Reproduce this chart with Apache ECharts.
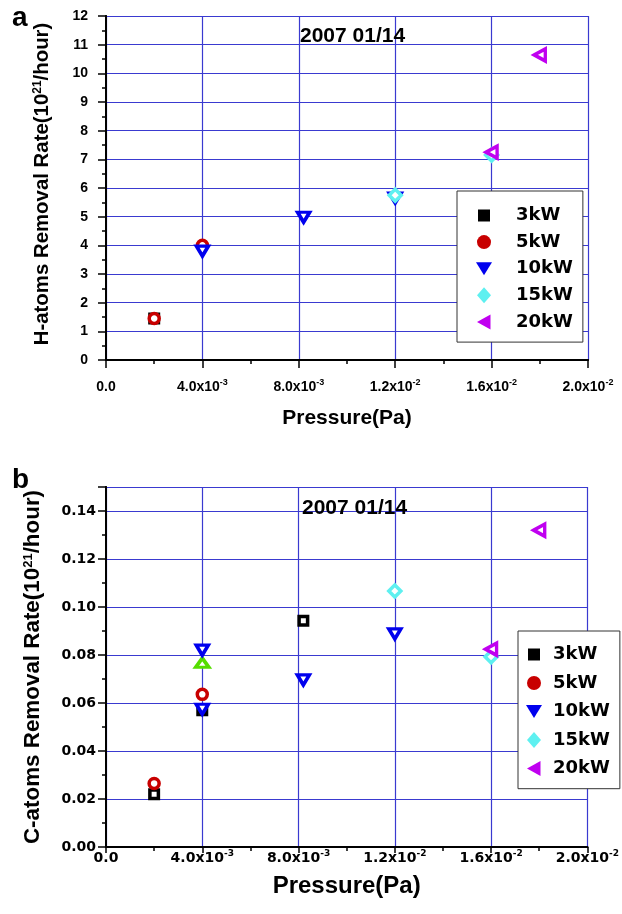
<!DOCTYPE html>
<html>
<head>
<meta charset="utf-8">
<script src="https://cdn.jsdelivr.net/npm/echarts@6/dist/echarts.min.js"></script>
<style>
  html, body { margin: 0; padding: 0; background: #fff; }
  #chart { width: 622px; height: 914px; }
</style>
</head>
<body>
<div id="chart"></div>
<script>
// x tick labels: mantissa + power of ten
var xTickMant = ['0.0', '4.0', '8.0', '1.2', '1.6', '2.0'];
var xTickExp = ['', '-3', '-3', '-2', '-2', '-2'];
var powerNames = ['3kW', '5kW', '10kW', '15kW', '20kW'];

// panel a : H-atoms removal rate (10^21/hour)
var h3kW = [[0.002, 1.45]];
var h5kW = [[0.002, 1.45], [0.004, 4.0]];
var h10kW = [[0.004, 3.8], [0.0082, 4.98], [0.012, 5.65]];
var h15kW = [[0.012, 5.75], [0.016, 7.15]];
var h20kW = [[0.016, 7.25], [0.018, 10.64]];

// panel b : C-atoms removal rate (10^21/hour)
var c3kW = [[0.002, 0.022], [0.004, 0.057], [0.0082, 0.0943]];
var c5kW = [[0.002, 0.0265], [0.004, 0.0636]];
var cGreen = [[0.004, 0.0768]];
var c10kW = [[0.004, 0.082], [0.004, 0.0574], [0.0082, 0.0696], [0.012, 0.0888]];
var c15kW = [[0.012, 0.1067], [0.016, 0.0793]];
var c20kW = [[0.016, 0.0824], [0.018, 0.132]];

// legend icons are drawn in a 17x17 box (the lone M points fix the box size)
var marks = {
  '3kW': { symbol: 'rect', size: 8.5, color: '#000000', icon: 'path://M0,0M17,17M2.5,2.5L14.5,2.5L14.5,14.5L2.5,14.5Z' },
  '5kW': { symbol: 'circle', size: 10, color: '#c80000', icon: 'path://M0,0M17,17M1.5,8.5A7,7,0,1,1,15.5,8.5A7,7,0,1,1,1.5,8.5Z' },
  '10kW': { symbol: 'triangle', size: [12, 10], rotate: 180, color: '#0000ee', icon: 'path://M0,0M17,17M0.5,2L16.5,2L8.5,15Z' },
  '15kW': { symbol: 'diamond', size: [12, 12], color: '#5ef0f0', icon: 'path://M0,0M17,17M8.5,0.5L15.5,8.5L8.5,16.5L1.5,8.5Z' },
  '20kW': { symbol: 'triangle', size: [12, 11], rotate: 90, color: '#c000f0', icon: 'path://M0,0M17,17M15,1L15,16L1.5,8.5Z' },
  'green': { symbol: 'triangle', size: [13, 9], color: '#55dd00' }
};

var gridColor = '#3a3ad0';
var arial = 'Liberation Sans';
var dejavu = 'DejaVu Sans';

function scatter(name, data, g, key) {
  var m = marks[key || name];
  return {
    type: 'scatter',
    name: name,
    xAxisIndex: g * 2,
    yAxisIndex: g * 2,
    data: data,
    symbol: m.symbol,
    symbolSize: m.size,
    symbolRotate: m.rotate || 0,
    itemStyle: { color: '#ffffff', borderColor: m.color, borderWidth: 3.5, opacity: 1 },
    emphasis: { disabled: true }
  };
}

function xLabel(v) {
  var i = Math.round(v / 0.004);
  var s = '{m|' + xTickMant[i] + '}';
  if (xTickExp[i]) s += '{m|x10}{s|' + xTickExp[i] + '}';
  return s;
}

function xAxes(g, font, size, margin, nameSize, nameGap, tickLen) {
  var common = { type: 'value', gridIndex: g, min: 0, max: 0.02, interval: 0.004 };
  var main = Object.assign({}, common, {
    position: 'bottom',
    name: 'Pressure(Pa)',
    nameLocation: 'middle',
    nameGap: nameGap,
    nameTextStyle: { fontFamily: arial, fontSize: nameSize, fontWeight: 'bold', color: '#000' },
    axisLine: { lineStyle: { color: '#000', width: 2 } },
    axisTick: { length: tickLen, lineStyle: { color: '#000', width: 1.5 } },
    minorTick: { show: true, splitNumber: 2, length: 4, lineStyle: { color: '#000', width: 1.5 } },
    splitLine: { show: true, lineStyle: { color: gridColor, width: 1.2 } },
    axisLabel: {
      margin: margin,
      formatter: xLabel,
      rich: {
        m: { fontFamily: font, fontSize: size, fontWeight: 'bold', color: '#000', lineHeight: 18 },
        s: { fontFamily: font, fontSize: 9, fontWeight: 'bold', color: '#000', verticalAlign: 'top' }
      }
    }
  });
  var top = Object.assign({}, common, {
    position: 'top',
    axisLine: { lineStyle: { color: '#000', width: 2 } },
    axisTick: { inside: true, length: 5, lineStyle: { color: '#000', width: 1.5 } },
    minorTick: { show: true, splitNumber: 2, length: 4, lineStyle: { color: '#000', width: 1.5 } },
    splitLine: { show: false },
    axisLabel: { show: false }
  });
  return [main, top];
}

function yAxes(g, max, interval, fmt, font, size, margin, title, nameSize, nameGap, shift) {
  var common = { type: 'value', gridIndex: g, min: 0, max: max, interval: interval };
  var main = Object.assign({}, common, {
    position: 'left',
    name: '{m|' + title + '-atoms Removal Rate(10}{s|21}{m|/hour)}',
    nameLocation: 'middle',
    nameRotate: 90,
    nameGap: nameGap,
    nameTextStyle: {
      padding: [0, 0, 0, shift],
      rich: {
        m: { fontFamily: arial, fontSize: nameSize, fontWeight: 'bold', color: '#000' },
        s: { fontFamily: arial, fontSize: Math.round(nameSize * 0.6), fontWeight: 'bold', color: '#000', verticalAlign: 'top' }
      }
    },
    axisLine: { lineStyle: { color: '#000', width: 2 } },
    axisTick: { length: 8, lineStyle: { color: '#000', width: 1.5 } },
    minorTick: { show: true, splitNumber: 2, length: 4, lineStyle: { color: '#000', width: 1.5 } },
    splitLine: { show: true, lineStyle: { color: gridColor, width: 1.2 } },
    axisLabel: { margin: margin, formatter: fmt, fontFamily: font, fontSize: size, fontWeight: 'bold', color: '#000' }
  });
  var right = Object.assign({}, common, {
    position: 'right',
    axisLine: { lineStyle: { color: '#000', width: 2 } },
    axisTick: { inside: true, length: 5, lineStyle: { color: '#000', width: 1.5 } },
    minorTick: { show: true, splitNumber: 2, length: 4, lineStyle: { color: '#000', width: 1.5 } },
    splitLine: { show: false },
    axisLabel: { show: false }
  });
  return [main, right];
}

var legendData = powerNames.map(function (n) {
  return {
    name: n,
    icon: marks[n].icon,
    itemStyle: { color: marks[n].color, borderColor: marks[n].color, borderWidth: 0 }
  };
});

function legend(left, top, padding, gap, textPad) {
  return {
    data: legendData,
    orient: 'vertical',
    left: left,
    top: top,
    padding: padding,
    itemWidth: 17,
    itemHeight: 17,
    itemGap: gap,
    selectedMode: false,
    backgroundColor: '#ffffff',
    borderColor: '#333333',
    borderWidth: 1,
    textStyle: { fontFamily: dejavu, fontWeight: 'bold', fontSize: 18, color: '#000', padding: [0, 0, 0, textPad] }
  };
}

var myChart = echarts.init(document.getElementById('chart'));
var option = {
  animation: false,
  backgroundColor: '#ffffff',
  title: [
    { text: 'a', left: 12, top: 4, padding: 0, textStyle: { fontFamily: arial, fontSize: 28, fontWeight: 'bold', color: '#000' } },
    { text: 'b', left: 12, top: 466, padding: 0, textStyle: { fontFamily: arial, fontSize: 28, fontWeight: 'bold', color: '#000' } },
    { text: '2007 01/14', left: 300, top: 26, padding: 0, textStyle: { fontFamily: arial, fontSize: 21, fontWeight: 'bold', color: '#000' } },
    { text: '2007 01/14', left: 302, top: 498, padding: 0, textStyle: { fontFamily: arial, fontSize: 21, fontWeight: 'bold', color: '#000' } }
  ],
  grid: [
    { left: 106, top: 16, width: 482, height: 344 },
    { left: 106, top: 487, width: 488, height: 360 }
  ],
  xAxis: xAxes(0, arial, 14, 18, 21, 48, 8).concat(xAxes(1, dejavu, 14, 2, 24, 27, 6)),
  yAxis: yAxes(0, 12, 1, function (v) { return String(v); }, arial, 14, 18, 'H', 20.4, 54, 8)
    .concat(yAxes(1, 0.15, 0.02, function (v) { return v > 0.145 ? '' : v.toFixed(2); }, dejavu, 14, 10, 'C', 22.4, 62, 0)),
  legend: [
    legend(457, 191, [15.5, 10, 11.2, 18.5], 8.6, 18.5),
    legend(518, 631, [14.5, 10, 11.2, 7.5], 10.5, 5.5)
  ],
  series: [
    scatter('3kW', h3kW, 0),
    scatter('5kW', h5kW, 0),
    scatter('10kW', h10kW, 0),
    scatter('15kW', h15kW, 0),
    scatter('20kW', h20kW, 0),
    scatter('3kW', c3kW, 1),
    scatter('5kW', c5kW, 1),
    scatter('other', cGreen, 1, 'green'),
    scatter('10kW', c10kW, 1),
    scatter('15kW', c15kW, 1),
    scatter('20kW', c20kW, 1)
  ]
};
myChart.setOption(option);
</script>
</body>
</html>
